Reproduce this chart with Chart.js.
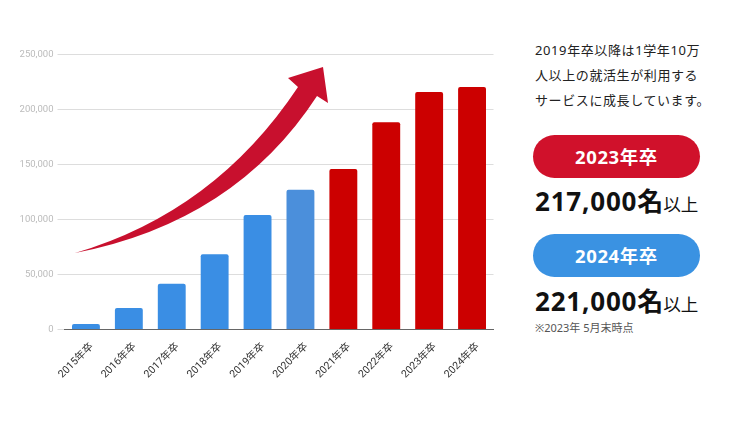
<!DOCTYPE html>
<html lang="ja">
<head>
<meta charset="utf-8">
<script src="https://cdn.jsdelivr.net/npm/chart.js@4"></script>
<style>
  html, body { margin: 0; padding: 0; background: #fff; }
  #wrap { position: relative; width: 750px; height: 422px; overflow: hidden; font-family: "Noto Sans", "Noto Sans CJK JP", sans-serif; }
  #box { position: absolute; left: 0; top: 0; width: 510px; height: 422px; }
  #arrow { position: absolute; left: 0; top: 0; width: 510px; height: 422px; pointer-events: none; }
  .lead { position: absolute; left: 535px; top: 38px; font-size: 13px; line-height: 25px; color: #222; white-space: nowrap; letter-spacing: 0.6px; }
  .pill { position: absolute; left: 533px; width: 167px; height: 43px; border-radius: 22px; color: #fff; font-weight: 700; font-size: 18.5px; line-height: 43px; text-align: center; letter-spacing: 0.6px; }
  .num { position: absolute; left: 535px; font-size: 26px; font-weight: 700; color: #111; line-height: 30px; white-space: nowrap; }
  .num b { font-weight: 700; letter-spacing: 0.8px; }
  .num span { font-size: 17.5px; font-weight: 400; }
  .note { position: absolute; left: 535px; top: 319px; font-size: 11px; color: #555; }
</style>
</head>
<body>
<div id="wrap">
  <div id="box"><canvas id="bar-chart"></canvas></div>
  <svg id="arrow" viewBox="0 0 510 422">
    <path d="M75,253 Q215,212 298,87 L288,78 L323,67 L328,103 L317,96 Q235,222 75,253 Z" fill="#c8102e"/>
  </svg>
  <div class="lead">2019年卒以降は1学年10万<br>人以上の就活生が利用する<br>サービスに成長しています。</div>
  <div class="pill" style="top:135px;background:#d0112b;">2023年卒</div>
  <div class="num" style="top:186px;"><b>217,000</b>名<span>以上</span></div>
  <div class="pill" style="top:234px;background:#3a92e2;">2024年卒</div>
  <div class="num" style="top:286px;"><b>221,000</b>名<span>以上</span></div>
  <div class="note">※2023年 5月末時点</div>
</div>
<script>
let YEARS = ['2015年卒', '2016年卒', '2017年卒', '2018年卒', '2019年卒', '2020年卒', '2021年卒', '2022年卒', '2023年卒', '2024年卒'];
let USERS = [5000, 19500, 41500, 68500, 104000, 127000, 146000, 188500, 216000, 220500];
let BAR_COLORS = ['#3a8ee4', '#3a8ee4', '#3a8ee4', '#3a8ee4', '#3a8ee4', '#4b8fdb', '#cc0000', '#cc0000', '#cc0000', '#cc0000'];
let Y_MAX = 250000;
let Y_STEP = 50000;

var ctx = document.getElementById('bar-chart').getContext('2d');
var barChart = new Chart(ctx, {
	type: 'bar',
	data: {
		labels: YEARS,
		datasets: [
			{
				data: USERS,
				backgroundColor: BAR_COLORS,
				borderRadius: 2,
				borderSkipped: 'bottom',
				categoryPercentage: 1,
				barPercentage: 0.65,
			},
		],
	},
	options: {
		animation: false,
		responsive: true,
		maintainAspectRatio: false,
		layout: { padding: { top: 54.5, right: 16.5, bottom: 0, left: 0 } },
		plugins: { legend: { display: false }, tooltip: { enabled: false } },
		scales: {
			x: {
				grid: { display: false },
				border: { display: true, color: '#666', width: 1 },
				ticks: {
					minRotation: 45,
					maxRotation: 45,
					color: '#333',
					padding: 3,
					labelOffset: 6,
					font: { family: "Roboto, 'Noto Sans CJK JP'", size: 10.5 },
				},
				afterFit: (scale) => {
					scale.height = 92.5;
				},
			},
			y: {
				min: 0,
				max: Y_MAX,
				border: { display: false },
				grid: { color: '#dddddd', tickColor: '#dddddd', tickLength: 7 },
				ticks: {
					stepSize: Y_STEP,
					padding: 4,
					color: '#bbbbbb',
					font: { family: 'Roboto', size: 9.5 },
					callback: (v) => v.toLocaleString('en-US'),
				},
				afterFit: (scale) => {
					scale.width = 64.5;
				},
			},
		},
	},
});
</script>
</body>
</html>
